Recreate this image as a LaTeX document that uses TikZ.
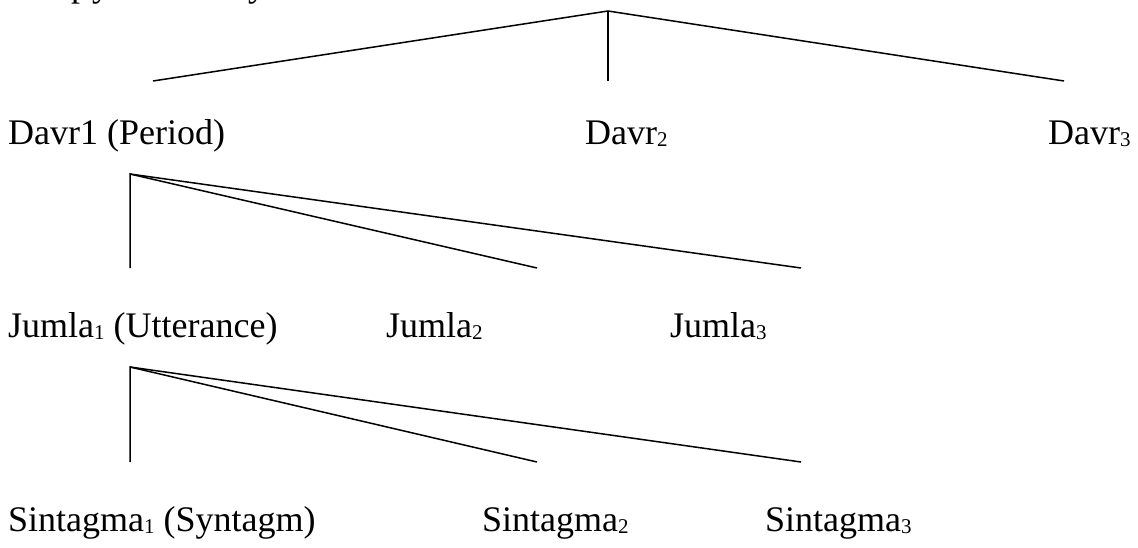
\documentclass[tikz,border=0pt]{standalone}
\usepackage{fontspec}
\setmainfont{Liberation Serif}
\newcommand{\lowsub}[1]{\raisebox{-2.5pt}{\fontsize{21}{21}\selectfont #1}}
\begin{document}
\begin{tikzpicture}[x=1pt,y=-1pt,
  lbl/.style={anchor=base west, inner sep=0pt, font=\fontsize{36}{43}\selectfont},
  edge/.style={line width=1.5pt, line cap=butt, line join=miter}]
\useasboundingbox (0,0) rectangle (1138,547);
\begin{scope}
\clip (0,0) rectangle (1138,547);
\node[lbl] (frag1) at (71,-4) {p};
\node[lbl] (frag2) at (92,-4) {y};
\node[lbl] (frag3) at (248,-4) {y};
\end{scope}
% level 1
\coordinate (a0) at (608,11);
\coordinate (a1) at (153,81);
\coordinate (a2) at (608,81);
\coordinate (a3) at (1064,81);
\draw[edge] (a1) -- (a0) -- (a3);
\draw[edge] (a0) -- (a2);
\node[lbl] (d1) at (8,144) {Davr1 (Period)};
\node[lbl] (d2) at (585,144) {Davr\lowsub{2}};
\node[lbl] (d3) at (1048,144) {Davr\lowsub{3}};
% level 2
\coordinate (b0) at (130,174);
\coordinate (b1) at (130,268);
\coordinate (b2) at (537,268);
\coordinate (b3) at (801,268);
\draw[edge] (b1) -- (b0) -- (b2);
\draw[edge] (b0) -- (b3);
\node[lbl] (j1) at (8,337) {Jumla\lowsub{1} (Utterance)};
\node[lbl] (j2) at (386,337) {Jumla\lowsub{2}};
\node[lbl] (j3) at (670,337) {Jumla\lowsub{3}};
% level 3
\coordinate (c0) at (130,367);
\coordinate (c1) at (130,462);
\coordinate (c2) at (537,462);
\coordinate (c3) at (801,462);
\draw[edge] (c1) -- (c0) -- (c2);
\draw[edge] (c0) -- (c3);
\node[lbl] (s1) at (8,531) {Sintagma\lowsub{1} (Syntagm)};
\node[lbl] (s2) at (482,531) {Sintagma\lowsub{2}};
\node[lbl] (s3) at (765,531) {Sintagma\lowsub{3}};
\end{tikzpicture}
\end{document}
